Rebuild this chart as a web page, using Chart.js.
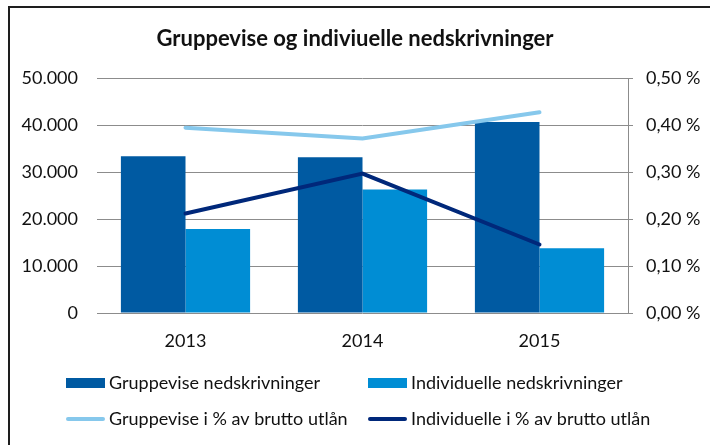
<!DOCTYPE html>
<html>
<head>
<meta charset="utf-8">
<script src="https://cdn.jsdelivr.net/npm/chart.js@4"></script>
<style>
  body { margin: 0; background: #fff; }
  #wrap { position: relative; width: 710px; height: 445px; overflow: hidden; }
  #frame { position: absolute; left: 8px; top: 6px; width: 800px; height: 500px;
           border-left: 2px solid #1e1e1e; border-top: 2px solid #1e1e1e; pointer-events: none; }
</style>
</head>
<body>
<div id="wrap">
  <canvas id="myChart" width="710" height="445"></canvas>
  <div id="frame"></div>
</div>
<script>
// data
let years = ['2013', '2014', '2015'];
let gruppevise = [33400, 33200, 40700];
let individuelle = [17900, 26300, 13800];
let gruppevisePct = [0.395, 0.372, 0.428];
let individuellePct = [0.212, 0.297, 0.146];
let leftTicks = ['0', '10.000', '20.000', '30.000', '40.000', '50.000'];
let rightTicks = ['0,00 %', '0,10 %', '0,20 %', '0,30 %', '0,40 %', '0,50 %'];

let font = 'Lato';
let gridColor = '#8c8c8c';

// legend drawn at fixed spots like the excel one (2 x 2)
let legendPlugin = {
  id: 'gridLegend',
  afterDraw(chart) {
    let ctx = chart.ctx;
    let spots = [[66, 383], [368, 383], [66, 419], [368, 419]];
    ctx.save();
    ctx.font = '18px ' + font;
    ctx.textBaseline = 'middle';
    ctx.fillStyle = '#111';
    chart.data.datasets.forEach((ds, i) => {
      let x = spots[i][0];
      let y = spots[i][1];
      if (ds.type === 'line') {
        ctx.strokeStyle = ds.borderColor;
        ctx.lineWidth = 4;
        ctx.lineCap = 'round';
        ctx.beginPath();
        ctx.moveTo(x + 2, y);
        ctx.lineTo(x + 37, y);
        ctx.stroke();
      } else {
        ctx.fillStyle = ds.backgroundColor;
        ctx.fillRect(x, y - 5, 39, 10);
      }
      ctx.fillStyle = '#111';
      ctx.fillText(ds.label, x + 43, y);
    });
    ctx.restore();
  }
};

let ctx = document.getElementById('myChart').getContext('2d');
let myChart = new Chart(ctx, {
  type: 'bar',
  data: {
    labels: years,
    datasets: [{
      label: 'Gruppevise nedskrivninger',
      data: gruppevise,
      backgroundColor: '#005aa2',
      yAxisID: 'y',
      order: 1
    }, {
      label: 'Individuelle nedskrivninger',
      data: individuelle,
      backgroundColor: '#008dd4',
      yAxisID: 'y',
      order: 1
    }, {
      type: 'line',
      label: 'Gruppevise i % av brutto utlån',
      data: gruppevisePct,
      borderColor: '#86c8ec',
      borderWidth: 4,
      borderCapStyle: 'round',
      pointRadius: 0,
      yAxisID: 'y1',
      order: 0
    }, {
      type: 'line',
      label: 'Individuelle i % av brutto utlån',
      data: individuellePct,
      borderColor: '#00287a',
      borderWidth: 4,
      borderCapStyle: 'round',
      pointRadius: 0,
      yAxisID: 'y1',
      order: 0
    }]
  },
  options: {
    responsive: false,
    animation: false,
    devicePixelRatio: 1,
    categoryPercentage: 0.73,
    barPercentage: 1,
    layout: { padding: 0 },
    plugins: {
      legend: { display: false },
      tooltip: { enabled: false },
      title: {
        display: true,
        text: 'Gruppevise og indiviuelle nedskrivninger',
        color: '#111',
        font: { family: font, size: 22, weight: 'bold' },
        padding: { top: 26, bottom: 26 }
      }
    },
    scales: {
      x: {
        grid: { display: false, drawTicks: false },
        border: { display: false },
        ticks: { color: '#111', font: { family: font, size: 18 }, padding: 17 },
        afterFit: (scale) => { scale.height = 132; }
      },
      y: {
        position: 'left',
        min: 0,
        max: 50000,
        ticks: {
          stepSize: 10000,
          color: '#111',
          font: { family: font, size: 18 },
          padding: 19,
          callback: (v, i) => leftTicks[i]
        },
        grid: { color: gridColor, drawTicks: false },
        border: { display: false },
        afterFit: (scale) => { scale.width = 97; }
      },
      y1: {
        position: 'right',
        min: 0,
        max: 0.5,
        ticks: {
          stepSize: 0.1,
          color: '#111',
          font: { family: font, size: 18 },
          padding: 13,
          callback: (v, i) => rightTicks[i]
        },
        grid: { drawOnChartArea: false, color: gridColor, tickLength: 5 },
        border: { display: true, color: gridColor },
        afterFit: (scale) => { scale.width = 82; }
      }
    }
  },
  plugins: [legendPlugin]
});
</script>
</body>
</html>
